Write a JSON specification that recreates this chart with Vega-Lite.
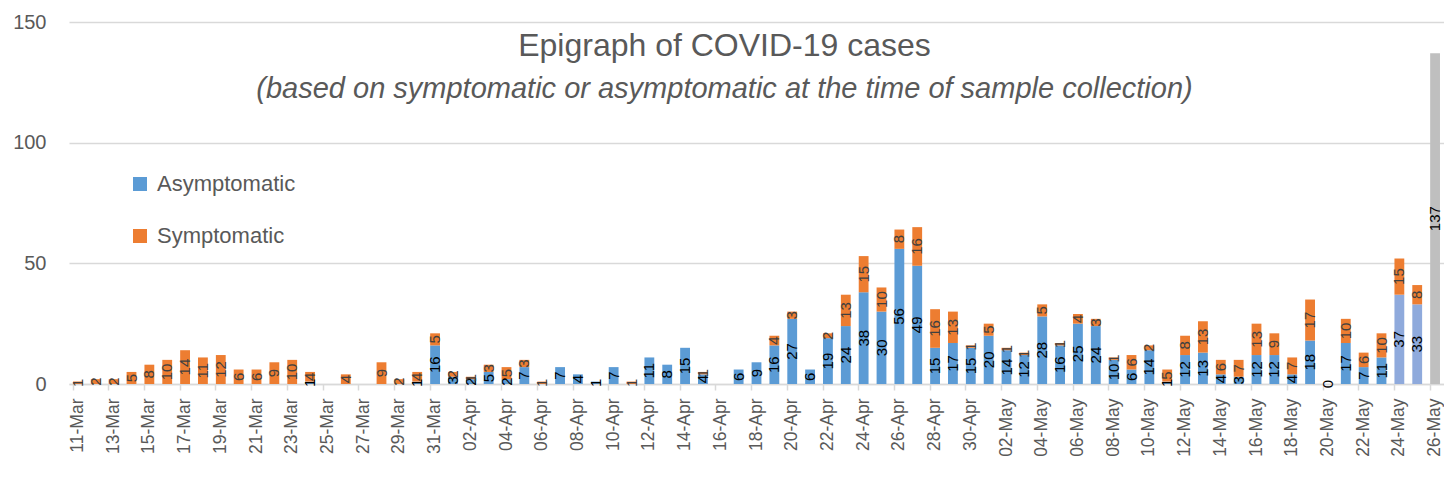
{
  "$schema": "https://vega.github.io/schema/vega-lite/v6.json",
  "width": 1375,
  "height": 362,
  "padding": {"left": 5, "top": 12, "right": 0, "bottom": 5},
  "background": "white",
  "config": {"view": {"stroke": null}, "font": "Liberation Sans"},
  "title": {
    "text": "Epigraph of COVID-19 cases",
    "subtitle": "(based on symptomatic or asymptomatic at the time of sample collection)",
    "anchor": "middle",
    "frame": "bounds",
    "offset": -93,
    "font": "Liberation Sans",
    "fontSize": 32,
    "fontWeight": "normal",
    "color": "#595959",
    "subtitleFont": "Liberation Sans",
    "subtitleFontSize": 29,
    "subtitleFontStyle": "italic",
    "subtitleColor": "#595959",
    "subtitlePadding": 12
  },
  "data": {
    "values": [
      {"d": "11-Mar", "s": "Symptomatic", "v": 1},
      {"d": "12-Mar", "s": "Symptomatic", "v": 2},
      {"d": "13-Mar", "s": "Symptomatic", "v": 2},
      {"d": "14-Mar", "s": "Symptomatic", "v": 5},
      {"d": "15-Mar", "s": "Symptomatic", "v": 8},
      {"d": "16-Mar", "s": "Symptomatic", "v": 10},
      {"d": "17-Mar", "s": "Symptomatic", "v": 14},
      {"d": "18-Mar", "s": "Symptomatic", "v": 11},
      {"d": "19-Mar", "s": "Symptomatic", "v": 12},
      {"d": "20-Mar", "s": "Symptomatic", "v": 6},
      {"d": "21-Mar", "s": "Symptomatic", "v": 6},
      {"d": "22-Mar", "s": "Symptomatic", "v": 9},
      {"d": "23-Mar", "s": "Symptomatic", "v": 10},
      {"d": "24-Mar", "s": "Asymptomatic", "v": 1},
      {"d": "24-Mar", "s": "Symptomatic", "v": 4},
      {"d": "26-Mar", "s": "Symptomatic", "v": 4},
      {"d": "28-Mar", "s": "Symptomatic", "v": 9},
      {"d": "29-Mar", "s": "Symptomatic", "v": 2},
      {"d": "30-Mar", "s": "Asymptomatic", "v": 1},
      {"d": "30-Mar", "s": "Symptomatic", "v": 4},
      {"d": "31-Mar", "s": "Asymptomatic", "v": 16},
      {"d": "31-Mar", "s": "Symptomatic", "v": 5},
      {"d": "01-Apr", "s": "Asymptomatic", "v": 3},
      {"d": "01-Apr", "s": "Symptomatic", "v": 2},
      {"d": "02-Apr", "s": "Asymptomatic", "v": 2},
      {"d": "02-Apr", "s": "Symptomatic", "v": 1},
      {"d": "03-Apr", "s": "Asymptomatic", "v": 5},
      {"d": "03-Apr", "s": "Symptomatic", "v": 3},
      {"d": "04-Apr", "s": "Asymptomatic", "v": 2},
      {"d": "04-Apr", "s": "Symptomatic", "v": 5},
      {"d": "05-Apr", "s": "Asymptomatic", "v": 7},
      {"d": "05-Apr", "s": "Symptomatic", "v": 3},
      {"d": "06-Apr", "s": "Symptomatic", "v": 1},
      {"d": "07-Apr", "s": "Asymptomatic", "v": 7},
      {"d": "08-Apr", "s": "Asymptomatic", "v": 4},
      {"d": "09-Apr", "s": "Asymptomatic", "v": 1},
      {"d": "10-Apr", "s": "Asymptomatic", "v": 7},
      {"d": "11-Apr", "s": "Symptomatic", "v": 1},
      {"d": "12-Apr", "s": "Asymptomatic", "v": 11},
      {"d": "13-Apr", "s": "Asymptomatic", "v": 8},
      {"d": "14-Apr", "s": "Asymptomatic", "v": 15},
      {"d": "15-Apr", "s": "Asymptomatic", "v": 4},
      {"d": "15-Apr", "s": "Symptomatic", "v": 1},
      {"d": "17-Apr", "s": "Asymptomatic", "v": 6},
      {"d": "18-Apr", "s": "Asymptomatic", "v": 9},
      {"d": "19-Apr", "s": "Asymptomatic", "v": 16},
      {"d": "19-Apr", "s": "Symptomatic", "v": 4},
      {"d": "20-Apr", "s": "Asymptomatic", "v": 27},
      {"d": "20-Apr", "s": "Symptomatic", "v": 3},
      {"d": "21-Apr", "s": "Asymptomatic", "v": 6},
      {"d": "22-Apr", "s": "Asymptomatic", "v": 19},
      {"d": "22-Apr", "s": "Symptomatic", "v": 2},
      {"d": "23-Apr", "s": "Asymptomatic", "v": 24},
      {"d": "23-Apr", "s": "Symptomatic", "v": 13},
      {"d": "24-Apr", "s": "Asymptomatic", "v": 38},
      {"d": "24-Apr", "s": "Symptomatic", "v": 15},
      {"d": "25-Apr", "s": "Asymptomatic", "v": 30},
      {"d": "25-Apr", "s": "Symptomatic", "v": 10},
      {"d": "26-Apr", "s": "Asymptomatic", "v": 56},
      {"d": "26-Apr", "s": "Symptomatic", "v": 8},
      {"d": "27-Apr", "s": "Asymptomatic", "v": 49},
      {"d": "27-Apr", "s": "Symptomatic", "v": 16},
      {"d": "28-Apr", "s": "Asymptomatic", "v": 15},
      {"d": "28-Apr", "s": "Symptomatic", "v": 16},
      {"d": "29-Apr", "s": "Asymptomatic", "v": 17},
      {"d": "29-Apr", "s": "Symptomatic", "v": 13},
      {"d": "30-Apr", "s": "Asymptomatic", "v": 15},
      {"d": "30-Apr", "s": "Symptomatic", "v": 1},
      {"d": "01-May", "s": "Asymptomatic", "v": 20},
      {"d": "01-May", "s": "Symptomatic", "v": 5},
      {"d": "02-May", "s": "Asymptomatic", "v": 14},
      {"d": "02-May", "s": "Symptomatic", "v": 1},
      {"d": "03-May", "s": "Asymptomatic", "v": 12},
      {"d": "03-May", "s": "Symptomatic", "v": 1},
      {"d": "04-May", "s": "Asymptomatic", "v": 28},
      {"d": "04-May", "s": "Symptomatic", "v": 5},
      {"d": "05-May", "s": "Asymptomatic", "v": 16},
      {"d": "05-May", "s": "Symptomatic", "v": 1},
      {"d": "06-May", "s": "Asymptomatic", "v": 25},
      {"d": "06-May", "s": "Symptomatic", "v": 4},
      {"d": "07-May", "s": "Asymptomatic", "v": 24},
      {"d": "07-May", "s": "Symptomatic", "v": 3},
      {"d": "08-May", "s": "Asymptomatic", "v": 10},
      {"d": "08-May", "s": "Symptomatic", "v": 1},
      {"d": "09-May", "s": "Asymptomatic", "v": 6},
      {"d": "09-May", "s": "Symptomatic", "v": 6},
      {"d": "10-May", "s": "Asymptomatic", "v": 14},
      {"d": "10-May", "s": "Symptomatic", "v": 2},
      {"d": "11-May", "s": "Asymptomatic", "v": 1},
      {"d": "11-May", "s": "Symptomatic", "v": 5},
      {"d": "12-May", "s": "Asymptomatic", "v": 12},
      {"d": "12-May", "s": "Symptomatic", "v": 8},
      {"d": "13-May", "s": "Asymptomatic", "v": 13},
      {"d": "13-May", "s": "Symptomatic", "v": 13},
      {"d": "14-May", "s": "Asymptomatic", "v": 4},
      {"d": "14-May", "s": "Symptomatic", "v": 6},
      {"d": "15-May", "s": "Asymptomatic", "v": 3},
      {"d": "15-May", "s": "Symptomatic", "v": 7},
      {"d": "16-May", "s": "Asymptomatic", "v": 12},
      {"d": "16-May", "s": "Symptomatic", "v": 13},
      {"d": "17-May", "s": "Asymptomatic", "v": 12},
      {"d": "17-May", "s": "Symptomatic", "v": 9},
      {"d": "18-May", "s": "Asymptomatic", "v": 4},
      {"d": "18-May", "s": "Symptomatic", "v": 7},
      {"d": "19-May", "s": "Asymptomatic", "v": 18},
      {"d": "19-May", "s": "Symptomatic", "v": 17},
      {"d": "20-May", "s": "Asymptomatic", "v": 0},
      {"d": "21-May", "s": "Asymptomatic", "v": 17},
      {"d": "21-May", "s": "Symptomatic", "v": 10},
      {"d": "22-May", "s": "Asymptomatic", "v": 7},
      {"d": "22-May", "s": "Symptomatic", "v": 6},
      {"d": "23-May", "s": "Asymptomatic", "v": 11},
      {"d": "23-May", "s": "Symptomatic", "v": 10},
      {"d": "24-May", "s": "Asymptomatic (recent)", "v": 37},
      {"d": "24-May", "s": "Symptomatic", "v": 15},
      {"d": "25-May", "s": "Asymptomatic (recent)", "v": 33},
      {"d": "25-May", "s": "Symptomatic", "v": 8},
      {"d": "26-May", "s": "Pending", "v": 137}
    ]
  },
  "transform": [
    {"stack": "v", "groupby": ["d"], "sort": [{"field": "s", "order": "ascending"}], "as": ["v0", "v1"]},
    {"calculate": "(datum.v0 + datum.v1) / 2", "as": "mid"}
  ],
  "encoding": {
    "x": {
      "field": "d",
      "type": "ordinal",
      "sort": null,
      "scale": {
        "domain": ["11-Mar","12-Mar","13-Mar","14-Mar","15-Mar","16-Mar","17-Mar","18-Mar","19-Mar","20-Mar","21-Mar","22-Mar","23-Mar","24-Mar","25-Mar","26-Mar","27-Mar","28-Mar","29-Mar","30-Mar","31-Mar",
          "01-Apr","02-Apr","03-Apr","04-Apr","05-Apr","06-Apr","07-Apr","08-Apr","09-Apr","10-Apr","11-Apr","12-Apr","13-Apr","14-Apr","15-Apr","16-Apr","17-Apr","18-Apr","19-Apr","20-Apr","21-Apr","22-Apr","23-Apr","24-Apr","25-Apr","26-Apr","27-Apr","28-Apr","29-Apr","30-Apr",
          "01-May","02-May","03-May","04-May","05-May","06-May","07-May","08-May","09-May","10-May","11-May","12-May","13-May","14-May","15-May","16-May","17-May","18-May","19-May","20-May","21-May","22-May","23-May","24-May","25-May","26-May"],
        "paddingInner": 0.45,
        "paddingOuter": 0.225
      },
      "axis": {
        "title": null,
        "values": ["11-Mar","13-Mar","15-Mar","17-Mar","19-Mar","21-Mar","23-Mar","25-Mar","27-Mar","29-Mar","31-Mar","02-Apr","04-Apr","06-Apr","08-Apr","10-Apr","12-Apr","14-Apr","16-Apr","18-Apr","20-Apr","22-Apr","24-Apr","26-Apr","28-Apr","30-Apr","02-May","04-May","06-May","08-May","10-May","12-May","14-May","16-May","18-May","20-May","22-May","24-May","26-May"],
        "labelAngle": -90,
        "labelFontSize": 17.5,
        "labelColor": "#595959",
        "labelFont": "Liberation Sans",
        "labelPadding": 8,
        "domainColor": "#d9d9d9",
        "domainWidth": 1.5,
        "tickColor": "#d9d9d9",
        "tickWidth": 1.5,
        "tickSize": 6,
        "bandPosition": 0
      }
    }
  },
  "layer": [
    {
      "mark": {"type": "bar"},
      "encoding": {
        "y": {
          "field": "v0",
          "type": "quantitative",
          "scale": {"domain": [0, 150], "nice": false},
          "axis": {
            "title": null,
            "values": [0, 50, 100, 150],
            "grid": true,
            "gridColor": "#d9d9d9",
            "gridWidth": 1.5,
            "domain": false,
            "ticks": false,
            "labelFontSize": 20,
            "labelColor": "#595959",
            "labelFont": "Liberation Sans",
            "labelPadding": 23,
            "minExtent": 64,
            "maxExtent": 64
          }
        },
        "y2": {"field": "v1"},
        "color": {
          "field": "s",
          "type": "nominal",
          "scale": {
            "domain": ["Asymptomatic", "Asymptomatic (recent)", "Pending", "Symptomatic"],
            "range": ["#5B9BD5", "#8FAADC", "#BFBFBF", "#ED7D31"]
          },
          "legend": {
            "title": null,
            "values": ["Asymptomatic", "Symptomatic"],
            "orient": "none",
            "legendX": 60,
            "legendY": 151,
            "symbolType": "square",
            "symbolSize": 196,
            "symbolStrokeWidth": 0,
            "labelFontSize": 22,
            "labelColor": "#595959",
            "labelFont": "Liberation Sans",
            "labelOffset": 6,
            "rowPadding": 30
          }
        }
      }
    },
    {
      "mark": {"type": "text", "angle": 270, "fontSize": 15, "align": "center", "baseline": "middle", "font": "Liberation Sans"},
      "encoding": {
        "y": {"field": "mid", "type": "quantitative"},
        "text": {"field": "v", "type": "quantitative"},
        "color": {
          "condition": {"test": "datum.s === 'Symptomatic'", "value": "#404040"},
          "value": "#000000"
        }
      }
    }
  ]
}
